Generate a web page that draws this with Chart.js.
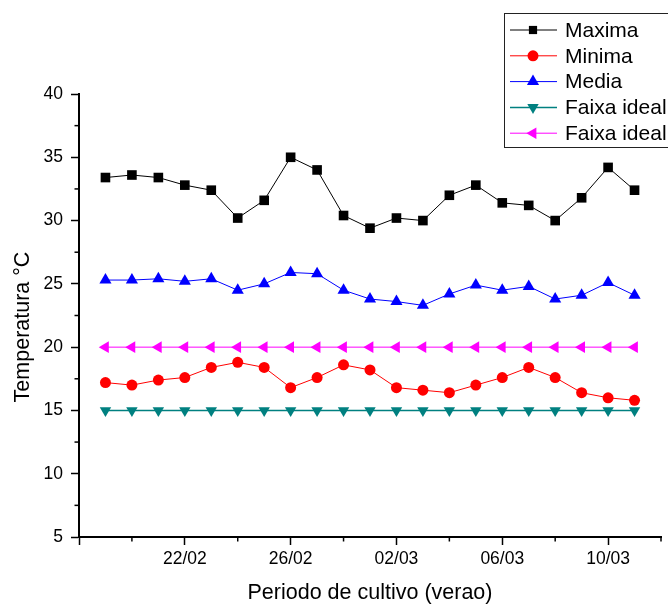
<!DOCTYPE html>
<html>
<head>
<meta charset="utf-8">
<script src="https://cdn.jsdelivr.net/npm/chart.js@4"></script>
<style>
  html, body { margin: 0; padding: 0; background: #fff; }
  canvas { display: block; }
</style>
</head>
<body>
<canvas id="tempChart" width="668" height="604"></canvas>
<script>
// days along the x axis (index 0 = 18/02 ... 22 = 12/03)
const days = ['18/02', '19/02', '20/02', '21/02', '22/02', '23/02', '24/02', '25/02', '26/02', '27/02', '28/02',
  '01/03', '02/03', '03/03', '04/03', '05/03', '06/03', '07/03', '08/03', '09/03', '10/03', '11/03', '12/03'];
const dates = days.slice(1, 22);
const labelledDays = ['22/02', '26/02', '02/03', '06/03', '10/03'];

const maxima = [33.4, 33.6, 33.4, 32.8, 32.4, 30.2, 31.6, 35.0, 34.0, 30.4, 29.4,
  30.2, 30.0, 32.0, 32.8, 31.4, 31.2, 30.0, 31.8, 34.2, 32.4];
const minima = [17.2, 17.0, 17.4, 17.6, 18.4, 18.8, 18.4, 16.8, 17.6, 18.6, 18.2,
  16.8, 16.6, 16.4, 17.0, 17.6, 18.4, 17.6, 16.4, 16.0, 15.8];
const media = [25.3, 25.3, 25.4, 25.2, 25.4, 24.5, 25.0, 25.9, 25.8, 24.5, 23.8,
  23.6, 23.3, 24.2, 24.9, 24.5, 24.8, 23.8, 24.1, 25.1, 24.1];
const faixaMin = dates.map(() => 15);
const faixaMax = dates.map(() => 20);

const font = "'Liberation Sans', Arial, sans-serif";

const toPoints = arr => arr.map((v, i) => ({ x: days.indexOf(dates[i]), y: v }));

function series(label, data, color, style, radius, rotation, width) {
  return {
    label: label,
    data: toPoints(data),
    borderColor: color,
    backgroundColor: color,
    borderWidth: width || 1,
    pointStyle: style,
    pointRadius: radius,
    pointHoverRadius: radius,
    pointRotation: rotation || 0,
    pointBorderWidth: 0,
    pointBackgroundColor: color,
    tension: 0
  };
}

// minor ticks (shorter) + axis titles + boxed legend
const extras = {
  id: 'extras',
  afterDraw(chart) {
    const ctx = chart.ctx;
    const xs = chart.scales.x, ys = chart.scales.y;
    ctx.save();
    ctx.strokeStyle = '#000';
    ctx.lineWidth = 1.5;
    xs.ticks.forEach(t => {
      if (t.value % 4 !== 0) {
        const px = xs.getPixelForValue(t.value);
        ctx.beginPath(); ctx.moveTo(px, xs.top); ctx.lineTo(px, xs.top + 4.5); ctx.stroke();
      }
    });
    ys.ticks.forEach(t => {
      if (t.value % 5 !== 0) {
        const py = ys.getPixelForValue(t.value);
        ctx.beginPath(); ctx.moveTo(ys.right, py); ctx.lineTo(ys.right - 4.5, py); ctx.stroke();
      }
    });

    // axis titles
    ctx.fillStyle = '#000';
    ctx.font = '21.5px ' + font;
    ctx.textAlign = 'center';
    ctx.textBaseline = 'middle';
    ctx.fillText('Periodo de cultivo (verao)', (chart.chartArea.left + chart.chartArea.right) / 2, 593);
    ctx.save();
    ctx.translate(23, 327);
    ctx.rotate(-Math.PI / 2);
    ctx.fillText('Temperatura °C', 0, 0);
    ctx.restore();

    // legend
    ctx.fillStyle = '#fff';
    ctx.fillRect(504.5, 13.5, 170, 134);
    ctx.strokeStyle = '#222';
    ctx.lineWidth = 1;
    ctx.strokeRect(504.5, 13.5, 170, 134);
    ctx.font = '21px ' + font;
    ctx.textAlign = 'left';
    chart.data.datasets.forEach((ds, i) => {
      const y = 30 + i * 25.8;
      ctx.strokeStyle = ds.borderColor;
      ctx.lineWidth = ds.borderWidth;
      ctx.beginPath(); ctx.moveTo(510, y); ctx.lineTo(557, y); ctx.stroke();
      ctx.fillStyle = ds.backgroundColor;
      Chart.helpers.drawPoint(ctx, {
        pointStyle: ds.pointStyle,
        rotation: ds.pointRotation,
        radius: ds.pointStyle === 'rect' ? 5.8 : ds.pointRadius,
        borderWidth: 0
      }, 533, y);
      ctx.fillStyle = '#000';
      ctx.fillText(ds.label, 565, y + 1);
    });
    ctx.restore();
  }
};

new Chart(document.getElementById('tempChart'), {
  type: 'line',
  data: {
    datasets: [
      series('Maxima', maxima, '#000000', 'rect', 6.8),
      series('Minima', minima, '#ff0000', 'circle', 5.5),
      series('Media', media, '#0000ff', 'triangle', 7),
      series('Faixa ideal', faixaMin, '#008080', 'triangle', 6.6, 180, 1.5),
      series('Faixa ideal', faixaMax, '#ff00ff', 'triangle', 6.7, 270)
    ]
  },
  options: {
    responsive: false,
    animation: false,
    layout: { padding: { left: 0, right: 7, top: 94, bottom: 0 } },
    plugins: {
      legend: { display: false },
      tooltip: { enabled: false }
    },
    scales: {
      x: {
        type: 'linear',
        min: 0,
        max: 22,
        afterFit(scale) { scale.height = 67; },
        border: { display: true, color: '#000', width: 2 },
        grid: {
          drawOnChartArea: false,
          drawTicks: true,
          tickLength: 8,
          tickWidth: 1.5,
          tickColor: c => (c.tick && c.tick.value % 4 === 0) ? '#000' : 'rgba(0,0,0,0)'
        },
        ticks: {
          stepSize: 2,
          autoSkip: false,
          maxRotation: 0,
          padding: 4,
          color: '#000',
          font: { family: font, size: 17.5 },
          callback: v => labelledDays.includes(days[v]) ? days[v] : ''
        }
      },
      y: {
        min: 5,
        max: 40,
        afterFit(scale) { scale.width = 79; },
        border: { display: true, color: '#000', width: 2 },
        grid: {
          drawOnChartArea: false,
          drawTicks: true,
          tickLength: 8,
          tickWidth: 1.5,
          tickColor: c => (c.tick && c.tick.value % 5 === 0) ? '#000' : 'rgba(0,0,0,0)'
        },
        ticks: {
          stepSize: 2.5,
          autoSkip: false,
          padding: 8,
          color: '#000',
          font: { family: font, size: 17.5 },
          callback: v => v % 5 === 0 ? v : ''
        }
      }
    }
  },
  plugins: [extras]
});
</script>
</body>
</html>
